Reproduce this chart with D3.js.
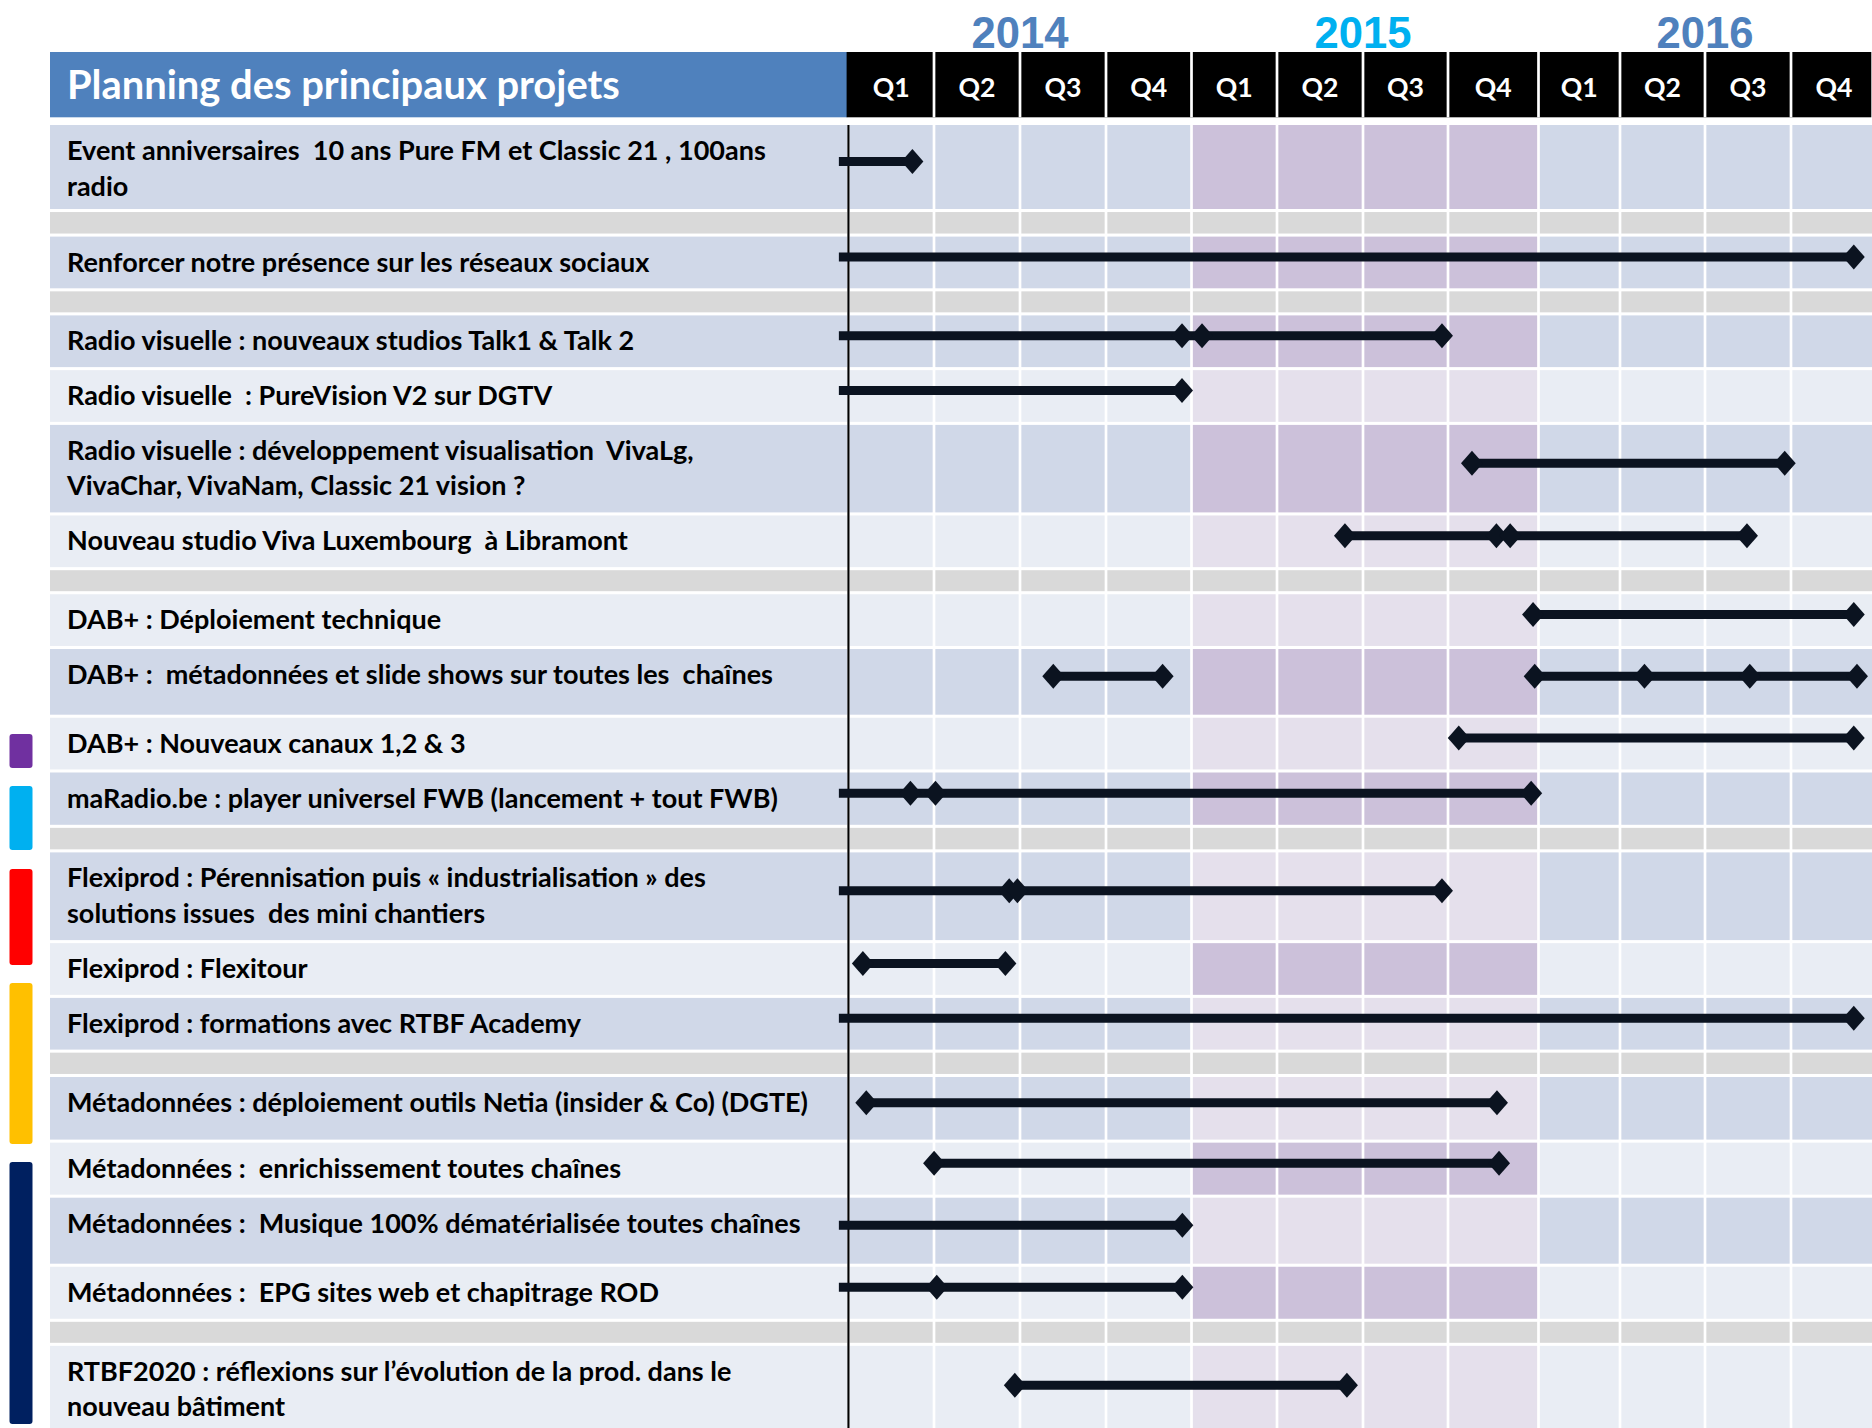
<!DOCTYPE html>
<html><head><meta charset="utf-8">
<script src="https://cdn.jsdelivr.net/npm/d3@7"></script>
<style>
html,body{margin:0;padding:0;background:#fff;}
svg{display:block;}
text{white-space:pre;}
</style></head><body>
<script>
// ================= DATA =================
const title = "Planning des principaux projets";
const years = ["2014", "2015", "2016"];
const quarters = ["Q1", "Q2", "Q3", "Q4"];

// one entry per table row; null = grey separator row
const labels = [
  ["Event anniversaires  10 ans Pure FM et Classic 21 , 100ans", "radio"],
  null,
  ["Renforcer notre présence sur les réseaux sociaux"],
  null,
  ["Radio visuelle : nouveaux studios Talk1 & Talk 2"],
  ["Radio visuelle  : PureVision V2 sur DGTV"],
  ["Radio visuelle : développement visualisation  VivaLg,", "VivaChar, VivaNam, Classic 21 vision ?"],
  ["Nouveau studio Viva Luxembourg  à Libramont"],
  null,
  ["DAB+ : Déploiement technique"],
  ["DAB+ :  métadonnées et slide shows sur toutes les  chaînes"],
  ["DAB+ : Nouveaux canaux 1,2 & 3"],
  ["maRadio.be : player universel FWB (lancement + tout FWB)"],
  null,
  ["Flexiprod : Pérennisation puis « industrialisation » des", "solutions issues  des mini chantiers"],
  ["Flexiprod : Flexitour"],
  ["Flexiprod : formations avec RTBF Academy"],
  null,
  ["Métadonnées : déploiement outils Netia (insider & Co) (DGTE)"],
  ["Métadonnées :  enrichissement toutes chaînes"],
  ["Métadonnées :  Musique 100% dématérialisée toutes chaînes"],
  ["Métadonnées :  EPG sites web et chapitrage ROD"],
  null,
  ["RTBF2020 : réflexions sur l’évolution de la prod. dans le", "nouveau bâtiment"]
];

// banding of each row (1 = darker band, 0 = lighter band)
const rowBand = [1, null, 1, null, 1, 0, 1, 0, null, 0, 1, 0, 1, null, 1, 0, 1, null, 1, 0, 1, 0, null, 0];
// banding of the 2015 highlight in each row
const band2015 = [1, null, 1, null, 1, 0, 1, 0, null, 0, 1, 0, 1, null, 0, 1, 0, null, 0, 1, 0, 1, null, 0];

// time in quarters counted from the start of 2014 (0 = 1 Jan 2014, 12 = end 2016)
// segment start null = already running before 2014
const segStart = [
  [null], [], [null], [], [null], [null], [7.265], [5.79], [], [7.94], [2.387, 7.958], [7.119], [null], [],
  [null], [0.17], [null], [], [0.21], [1.00], [null], [null], [], [1.94]
];
const segEnd = [
  [0.748], [], [11.73], [], [6.929], [3.889], [10.927], [10.488], [], [11.73], [3.662, 11.767], [11.73], [7.919], [],
  [6.929], [1.83], [11.73], [], [7.541], [7.564], [3.893], [3.893], [], [5.813]
];
const milestones = [
  [0.748], [], [11.73], [], [3.889, 4.123, 6.929], [3.889], [7.265, 10.927], [5.79, 7.535, 7.687, 10.488], [],
  [7.94, 11.73], [2.387, 3.662, 7.958, 9.288, 10.521, 11.767], [7.119, 11.73], [0.725, 1.017, 7.919], [],
  [1.875, 1.97, 6.929], [0.17, 1.83], [11.73], [], [0.21, 7.541], [1.001, 7.564], [3.893], [1.032, 3.893], [], [1.94, 5.813]
];

// colour keys on the left margin
const keyColors = ["#7030A0", "#00B0F0", "#FF0000", "#FFC000", "#002060"];

// ================= LAYOUT =================
const W = 1872, H = 1428;
// pixel edges of the 12 quarter columns (table columns are slightly uneven)
const COL_EDGES = [848.3, 934, 1020, 1106, 1191.5, 1277, 1363, 1448, 1538.5, 1620, 1705, 1791, 1877];
const ROW_H = [84, 21.5, 51.7, 21, 51.7, 51.7, 87.5, 51.7, 21, 51.7, 65.7, 51.7, 52.3, 21.5, 87.7, 51.7, 51.7, 21.3, 62.6, 52, 66, 52, 21, 90];
const ROW_GAP = 3.05, ROW_TOP = 125, CELL_GAP = 2.7;
const HEAD_Y0 = 52, HEAD_Y1 = 117.3;
const LABEL_X0 = 50, LABEL_X1 = 847.3, TEXT_X = 67;
const KEY_SPANS = [[734, 768], [786, 850], [869, 965], [983, 1144], [1162, 1424]];
const COL = {
  dark: "#D0D8E8", light: "#E9EDF4", sep: "#D9D9D9",
  pDark: "#CCC1DA", pLight: "#E5E0EC",
  head: "#4F81BD", y2014: "#4F81BD", y2015: "#00B0F0", y2016: "#4F81BD",
  bar: "#0B1320"
};
const FONT = "Lato, 'Open Sans', sans-serif";
const YFONT = "'Liberation Sans', Arial, sans-serif";

const svg = d3.select("body").append("svg").attr("width", W).attr("height", H);

const x = d3.scaleLinear().domain(d3.range(13)).range(COL_EDGES);

let acc = ROW_TOP;
const rowTop = ROW_H.map(h => { const t = acc; acc += h + ROW_GAP; return t; });
const rows = labels.map((l, i) => ({ i, lines: l, top: rowTop[i], h: ROW_H[i], band: rowBand[i], b15: band2015[i] }));

// font fitting helper (match reference text widths)
function fit(text, family, weight, target) {
  const t = svg.append("text").attr("font-family", family).attr("font-weight", weight).attr("font-size", 100).text(text);
  const w = t.node().getComputedTextLength(); t.remove();
  return 100 * target / w;
}
const labelSize = fit(labels[0][0], FONT, 700, 699);
const titleSize = fit(title, FONT, 700, 553);
const qSize = fit("Q1", FONT, 700, 37);
const yearSize = fit("2014", YFONT, 700, 97);

// ---- header ----
svg.append("rect").attr("x", LABEL_X0).attr("y", HEAD_Y0).attr("width", LABEL_X1 - LABEL_X0).attr("height", HEAD_Y1 - HEAD_Y0).attr("fill", COL.head);
svg.append("text").attr("x", TEXT_X).attr("y", 99.3).attr("fill", "#fff").attr("font-family", FONT).attr("font-weight", 700).attr("font-size", titleSize).text(title);

const qData = d3.range(12).map(k => ({ k, label: quarters[k % 4] }));
svg.append("rect").attr("x", LABEL_X1 - 0.7).attr("y", HEAD_Y0).attr("width", W - LABEL_X1).attr("height", HEAD_Y1 - HEAD_Y0).attr("fill", "#000");
svg.selectAll(".qsep").data(d3.range(1, 12)).join("rect")
  .attr("x", k => x(k) - CELL_GAP / 2).attr("y", HEAD_Y0).attr("width", CELL_GAP).attr("height", HEAD_Y1 - HEAD_Y0).attr("fill", "#fff");
svg.selectAll(".qlab").data(qData).join("text")
  .attr("x", d => x(d.k + 0.5)).attr("y", 96.7).attr("text-anchor", "middle")
  .attr("fill", "#fff").attr("font-family", FONT).attr("font-weight", 700).attr("font-size", qSize).text(d => d.label);

const yearColors = [COL.y2014, COL.y2015, COL.y2016];
svg.selectAll(".year").data(years).join("text")
  .attr("x", (d, i) => x(i * 4 + 2)).attr("y", 47.5).attr("text-anchor", "middle")
  .attr("fill", (d, i) => yearColors[i]).attr("font-family", YFONT)
  .attr("font-weight", 700).attr("font-size", yearSize).text(d => d);

// ---- row backgrounds ----
const gRows = svg.append("g");
rows.forEach(r => {
  const base = r.lines === null ? COL.sep : (r.band ? COL.dark : COL.light);
  gRows.append("rect").attr("x", LABEL_X0).attr("y", r.top).attr("width", LABEL_X1 - LABEL_X0).attr("height", r.h).attr("fill", base);
  gRows.selectAll(null).data(d3.range(12)).join("rect")
    .attr("x", k => x(k) + CELL_GAP / 2).attr("y", r.top).attr("width", k => x(k + 1) - x(k) - CELL_GAP).attr("height", r.h)
    .attr("fill", k => {
      if (r.lines === null) return COL.sep;
      if (k >= 4 && k < 8) return r.b15 ? COL.pDark : COL.pLight;
      return base;
    });
});

// vertical start line
svg.append("rect").attr("x", 847.4).attr("y", ROW_TOP).attr("width", 2.1).attr("height", H - ROW_TOP).attr("fill", "#000");

// ---- labels ----
rows.filter(r => r.lines).forEach(r => {
  r.lines.forEach((ln, j) => {
    svg.append("text").attr("x", TEXT_X).attr("y", r.top + 35 + j * 35.5)
      .attr("fill", "#000").attr("font-family", FONT).attr("font-weight", 700).attr("font-size", labelSize).text(ln);
  });
});

// ---- timeline bars ----
const PRE = -0.11; // "already running" start, drawn just left of the 2014 line
const DW = 11, DH = 12.5;
const gBars = svg.append("g");
rows.forEach(r => {
  if (!r.lines) return;
  const ly = r.top + r.h / 2 - 5.5;
  const segs = segStart[r.i].map((s, j) => [s === null ? PRE : s, segEnd[r.i][j]]);
  gBars.selectAll(null).data(segs).join("line")
    .attr("x1", d => x(d[0])).attr("x2", d => x(d[1])).attr("y1", ly).attr("y2", ly)
    .attr("stroke", COL.bar).attr("stroke-width", 9);
  gBars.selectAll(null).data(milestones[r.i]).join("path")
    .attr("d", d => { const cx = x(d); return `M${cx - DW},${ly}L${cx},${ly - DH}L${cx + DW},${ly}L${cx},${ly + DH}Z`; })
    .attr("fill", COL.bar);
});

// ---- colour keys ----
svg.selectAll(".key").data(keyColors).join("rect")
  .attr("x", 9.5).attr("y", (d, i) => KEY_SPANS[i][0]).attr("width", 23).attr("height", (d, i) => KEY_SPANS[i][1] - KEY_SPANS[i][0])
  .attr("rx", 3).attr("fill", d => d);
</script>
</body></html>
